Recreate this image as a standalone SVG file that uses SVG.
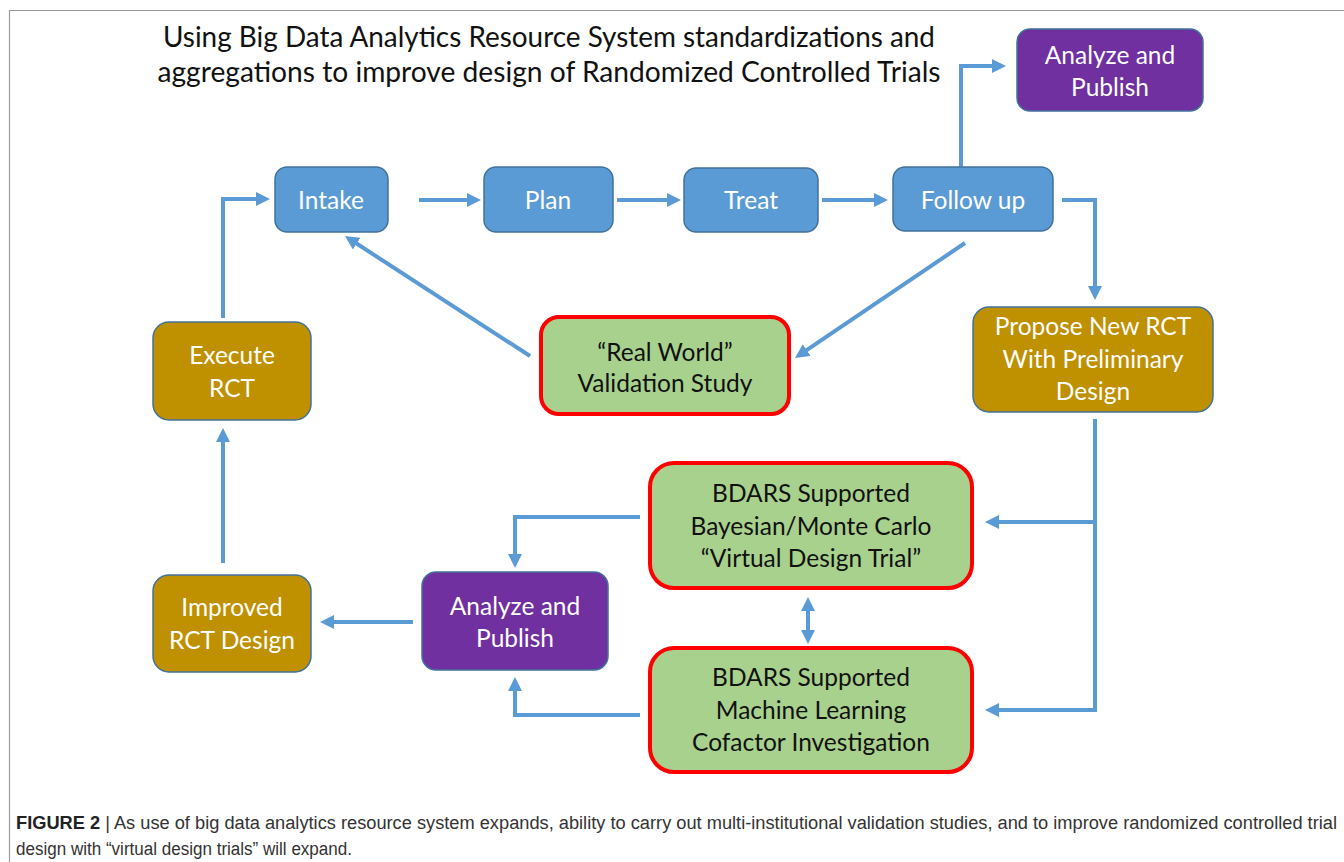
<svg xmlns="http://www.w3.org/2000/svg" width="1344" height="862" viewBox="0 0 1344 862">
<defs>
<marker id="ah" viewBox="0 0 14 14" markerWidth="14" markerHeight="14" refX="8" refY="7" orient="auto-start-reverse" markerUnits="userSpaceOnUse">
<path d="M0,0 L14,7 L0,14 z" fill="#5B9BD5"/>
</marker>
<style>
.frame{fill:none;stroke:#9a9a9a;stroke-width:1.2}
.title{font-family:Lato,"Open Sans",sans-serif;font-size:28px;fill:#111;text-anchor:middle}
.t{font-family:Lato,"Open Sans",sans-serif;font-size:24.5px;text-anchor:middle}
.w{fill:#fff}
.k{fill:#111}
.blue{fill:#5B9BD5;stroke:#41719C;stroke-width:1.5}
.gold{fill:#BF9000;stroke:#41719C;stroke-width:1.5}
.purple{fill:#7030A0;stroke:#41719C;stroke-width:1.5}
.green{fill:#A9D18E;stroke:#FF0000;stroke-width:4}
.c{fill:none;stroke:#5B9BD5;stroke-width:4;marker-end:url(#ah)}
.cap{font-family:"Liberation Sans",Arial,sans-serif;font-size:18px;fill:#333}
</style>
</defs>
<rect width="1344" height="862" fill="#fff"/>
<path class="frame" d="M9.5,862 V10.5 H1344"/>

<g id="title">
<text class="title" x="549" y="47" textLength="772" lengthAdjust="spacingAndGlyphs">Using Big Data Analytics Resource System standardizations and</text>
<text class="title" x="549" y="82" textLength="783" lengthAdjust="spacingAndGlyphs">aggregations to improve design of Randomized Controlled Trials</text>
</g>

<g id="connectors">
<path class="c" d="M223,318 V199 H264"/>
<path class="c" d="M419,200 H475"/>
<path class="c" d="M617,200 H675"/>
<path class="c" d="M822,200 H882"/>
<path class="c" d="M961,167 V66 H1000"/>
<path class="c" d="M1062,200 H1095 V294"/>
<path class="c" d="M965,243 L800,354.6"/>
<path class="c" d="M530,356 L350,239.3"/>
<path class="c" d="M1095,419 V710 H991"/>
<path class="c" d="M1095,522 H991"/>
<path class="c" d="M640,517 H515 V562"/>
<path class="c" d="M640,715 H515 V683"/>
<path class="c" d="M808,603 V638" marker-start="url(#ah)"/>
<path class="c" d="M413,622 H326"/>
<path class="c" d="M223,563 V434"/>
</g>

<g id="intake">
<rect class="blue" x="275" y="167" width="113" height="65" rx="12"/>
<text class="t w" x="331" y="209">Intake</text>
</g>
<g id="plan">
<rect class="blue" x="484" y="167" width="129" height="65" rx="12"/>
<text class="t w" x="548" y="209">Plan</text>
</g>
<g id="treat">
<rect class="blue" x="684" y="168" width="134" height="64" rx="12"/>
<text class="t w" x="751" y="209">Treat</text>
</g>
<g id="followup">
<rect class="blue" x="893" y="167" width="160" height="64" rx="12"/>
<text class="t w" x="973" y="209">Follow up</text>
</g>
<g id="analyze-top">
<rect class="purple" x="1017" y="29" width="186" height="82" rx="13"/>
<text class="t w" x="1110" y="64">Analyze and</text>
<text class="t w" x="1110" y="96">Publish</text>
</g>
<g id="propose">
<rect class="gold" x="973" y="307" width="240" height="105" rx="16"/>
<text class="t w" x="1093" y="335">Propose New RCT</text>
<text class="t w" x="1093" y="368">With Preliminary</text>
<text class="t w" x="1093" y="400">Design</text>
</g>
<g id="realworld">
<rect class="green" x="541" y="317" width="248" height="97" rx="18"/>
<text class="t k" x="665" y="361">“Real World”</text>
<text class="t k" x="665" y="392">Validation Study</text>
</g>
<g id="execute">
<rect class="gold" x="153" y="322" width="158" height="98" rx="16"/>
<text class="t w" x="232" y="364">Execute</text>
<text class="t w" x="232" y="397">RCT</text>
</g>
<g id="bayesian">
<rect class="green" x="650" y="463" width="322" height="125" rx="24"/>
<text class="t k" x="811" y="502">BDARS Supported</text>
<text class="t k" x="811" y="535">Bayesian/Monte Carlo</text>
<text class="t k" x="811" y="567">“Virtual Design Trial”</text>
</g>
<g id="ml">
<rect class="green" x="650" y="648" width="322" height="124" rx="24"/>
<text class="t k" x="811" y="686">BDARS Supported</text>
<text class="t k" x="811" y="719">Machine Learning</text>
<text class="t k" x="811" y="751">Cofactor Investigation</text>
</g>
<g id="analyze-mid">
<rect class="purple" x="422" y="572" width="186" height="98" rx="14"/>
<text class="t w" x="515" y="615">Analyze and</text>
<text class="t w" x="515" y="647">Publish</text>
</g>
<g id="improved">
<rect class="gold" x="153" y="575" width="158" height="97" rx="16"/>
<text class="t w" x="232" y="616">Improved</text>
<text class="t w" x="232" y="649">RCT Design</text>
</g>

<g id="caption">
<text class="cap" x="16" y="829" textLength="1321" lengthAdjust="spacingAndGlyphs"><tspan font-weight="bold" fill="#222">FIGURE 2</tspan> | As use of big data analytics resource system expands, ability to carry out multi-institutional validation studies, and to improve randomized controlled trial</text>
<text class="cap" x="16" y="855" textLength="336" lengthAdjust="spacingAndGlyphs">design with “virtual design trials” will expand.</text>
</g>
</svg>
